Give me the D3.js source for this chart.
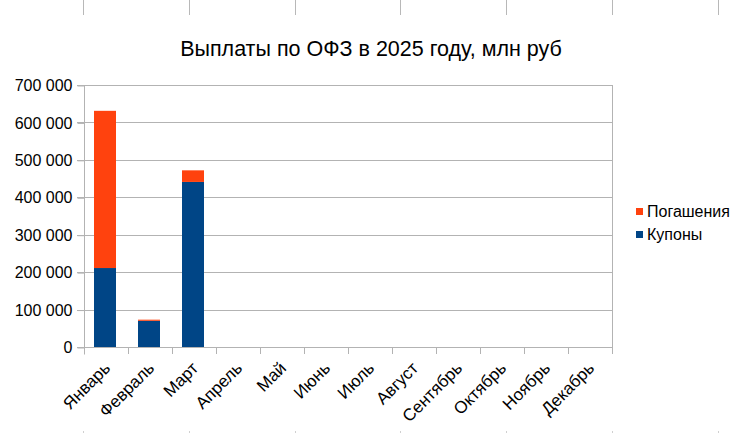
<!DOCTYPE html>
<html><head><meta charset="utf-8">
<script src="https://cdn.jsdelivr.net/npm/d3@7"></script>
<style>
html,body{margin:0;padding:0;background:#fff;}
svg{display:block;font-family:"Liberation Sans",Arial,sans-serif;}
</style></head>
<body>
<svg id="chart" width="735" height="433"></svg>
<script>
const months = ["Январь","Февраль","Март","Апрель","Май","Июнь","Июль","Август","Сентябрь","Октябрь","Ноябрь","Декабрь"];
const coupons = [211000, 70000, 441000, 0, 0, 0, 0, 0, 0, 0, 0, 0];
const redemptions = [420000, 3000, 31000, 0, 0, 0, 0, 0, 0, 0, 0, 0];
const yTicks = [0, 100000, 200000, 300000, 400000, 500000, 600000, 700000];
const seriesNames = ["Купоны", "Погашения"];
const colors = ["#004586", "#ff420e"];
const title = "Выплаты по ОФЗ в 2025 году, млн руб";

const svg = d3.select("#chart");
const m = {left: 84, right: 612, top: 85, bottom: 347};
const grid = "#b3b3b3";

// page artifacts (spreadsheet page marks)
const pageX = [83, 189, 295, 400, 506, 612, 718];
svg.selectAll("line.pg").data(pageX).join("line")
  .attr("x1", d => d + 0.5).attr("x2", d => d + 0.5).attr("y1", 0).attr("y2", 15)
  .attr("stroke", "#b8b8b8").attr("stroke-width", 1);
svg.selectAll("line.pgb").data(pageX).join("line")
  .attr("x1", d => d + 0.5).attr("x2", d => d + 0.5).attr("y1", 431).attr("y2", 433)
  .attr("stroke", "#d0d0d0").attr("stroke-width", 1);

const x = d3.scaleBand().domain(months).range([m.left, m.right]).paddingInner(0).paddingOuter(0);
const y = d3.scaleLinear().domain([0, 700000]).range([m.bottom, m.top]);

// gridlines
svg.append("g").selectAll("line").data(yTicks.filter(d => d > 0)).join("line")
  .attr("x1", m.left - 7).attr("x2", m.right)
  .attr("y1", d => Math.round(y(d)) + 0.5).attr("y2", d => Math.round(y(d)) + 0.5)
  .attr("stroke", grid);

// y axis
const yAxis = d3.axisLeft(y).tickValues(yTicks).tickSize(7).tickPadding(5)
  .tickFormat(d => d3.format(",")(d).replace(/,/g, " "));
const gy = svg.append("g").attr("transform", `translate(${m.left + 0.5},0.5)`).call(yAxis);
gy.select(".domain").attr("stroke", grid).attr("d", `M0,${m.top}V${m.bottom + 7}`);
gy.selectAll(".tick line").attr("stroke", grid);
gy.selectAll(".tick text").attr("font-size", 16).attr("fill", "#000").attr("font-family", "Liberation Sans, Arial, sans-serif");

// right border
svg.append("line").attr("x1", m.right + 0.5).attr("x2", m.right + 0.5).attr("y1", m.top).attr("y2", m.bottom + 7).attr("stroke", grid);

// x axis line and ticks at band edges
svg.append("line").attr("x1", m.left - 7).attr("x2", m.right).attr("y1", m.bottom + 0.5).attr("y2", m.bottom + 0.5).attr("stroke", grid);
const edges = months.map(d => x(d)).concat([m.right]);
svg.append("g").selectAll("line").data(edges).join("line")
  .attr("x1", d => Math.round(d) + 0.5).attr("x2", d => Math.round(d) + 0.5)
  .attr("y1", m.bottom).attr("y2", m.bottom + 7).attr("stroke", grid);

// bars (stacked)
const rows = months.map((mo, i) => ({month: mo, "Купоны": coupons[i], "Погашения": redemptions[i]}));
const stack = d3.stack().keys(seriesNames)(rows);
const bw = x.bandwidth() * 0.5;
svg.append("g").selectAll("g").data(stack).join("g")
  .attr("fill", (d, i) => colors[i])
  .selectAll("rect").data(d => d).join("rect")
  .attr("x", d => x(d.data.month) + (x.bandwidth() - bw) / 2 - 1)
  .attr("width", bw)
  .attr("y", d => y(d[1]))
  .attr("height", d => Math.max(0, y(d[0]) - y(d[1])));

// x labels
svg.append("g").selectAll("text").data(months).join("text")
  .attr("transform", d => `translate(${x(d) + x.bandwidth() / 2 + 1},${m.bottom + 18}) rotate(-45)`)
  .attr("text-anchor", "end").attr("dy", "0.35em")
  .attr("font-size", 17).attr("fill", "#000")
  .text(d => d);

// title
svg.append("text").attr("x", 371).attr("y", 56).attr("text-anchor", "middle")
  .attr("font-size", 21.5).attr("fill", "#000").text(title);

// legend
const leg = [{name: "Погашения", color: colors[1]}, {name: "Купоны", color: colors[0]}];
const lg = svg.append("g").selectAll("g").data(leg).join("g")
  .attr("transform", (d, i) => `translate(636,${208 + i * 23})`);
lg.append("rect").attr("width", 7).attr("height", 7).attr("fill", d => d.color);
lg.append("text").attr("x", 11).attr("y", 9).attr("font-size", 16).attr("fill", "#000").text(d => d.name);
</script>
</body></html>
